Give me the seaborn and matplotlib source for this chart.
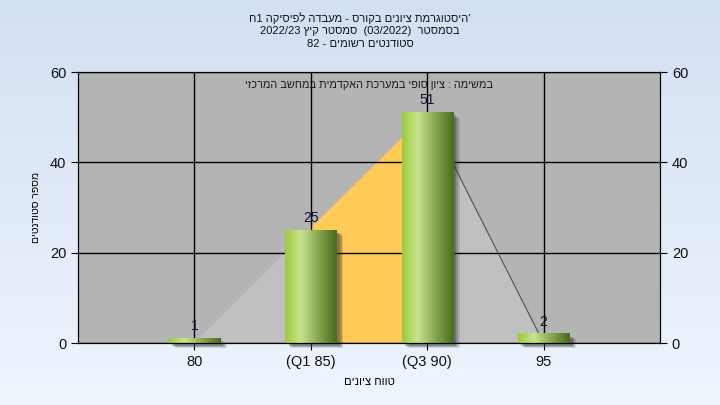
import re
import numpy as np
import pandas as pd
import matplotlib
matplotlib.use("Agg")
import matplotlib.pyplot as plt
from matplotlib.colors import LinearSegmentedColormap
from matplotlib.patches import Rectangle, Polygon
import seaborn as sns

# data
grades = ["80", "(Q1 85)", "(Q3 90)", "95"]
counts = [1, 25, 51, 2]
title_lines = ["'היסטוגרמת ציונים בקורס - מעבדה לפיסיקה 1ח",
               "בסמסטר  (03/2022)  סמסטר קיץ 2022/23",
               "סטודנטים רשומים - 82"]
subtitle = "במשימה : ציון סופי במערכת האקדמית במחשב המרכזי"
x_label = "טווח ציונים"
y_label = "מספר סטודנטים"
y_ticks = [0, 20, 40, 60]


def rtl(s):
    # matplotlib has no bidi: put hebrew text in visual order,
    # keep number/latin runs as they are, mirror brackets
    out = s[::-1]
    out = re.sub(r"[0-9A-Za-z][0-9A-Za-z/.]*[0-9A-Za-z]|[0-9A-Za-z]",
                 lambda m: m.group(0)[::-1], out)
    return out.translate(str.maketrans("()", ")("))


plt.rcParams['font.family'] = ['Liberation Sans', 'DejaVu Sans']

df = pd.DataFrame({"grade": grades, "count": counts})

fig = plt.figure(figsize=(7.2, 4.05), dpi=100)

# background gradient
bg = fig.add_axes([0, 0, 1, 1], zorder=-5)
bg_cmap = LinearSegmentedColormap.from_list("bg", ["#d3e0f2", "#eef5fd"])
bg.imshow(np.linspace(0, 1, 256).reshape(-1, 1), aspect="auto", cmap=bg_cmap,
          extent=[0, 1, 0, 1])
bg.axis("off")

ax = fig.add_axes([0.1083, 0.153, 0.8084, 0.669])
ax.set_facecolor("#b4b4b4")

sns.barplot(data=df, x="grade", y="count", ax=ax, width=0.44, color="#9ccc3c",
            zorder=4)

ax.set_xlim(-1, len(grades))
ax.set_ylim(0, 60)

# triangle min -> peak -> max, with Q1..Q3 part in yellow
peak = int(np.argmax(counts))
tri = [(0, 0), (peak, counts[peak]), (len(grades) - 1, 0)]
ax.add_patch(Polygon(tri, closed=True, facecolor="#c0c0c0", edgecolor="none", zorder=1))
q1, q3 = 1, 2
yq1 = counts[peak] * q1 / peak
ax.add_patch(Polygon([(q1, 0), (q1, yq1), (q3, counts[peak]), (q3, 0)], closed=True,
                     facecolor="#fecb57", edgecolor="none", zorder=1.5))
ax.plot([peak, len(grades) - 1], [counts[peak], 0], color="#505050", lw=0.8, zorder=2)

# grid
ax.set_yticks(y_ticks)
ax.grid(True, color="black", lw=1, zorder=2)
for gl in ax.get_xgridlines() + ax.get_ygridlines():
    gl.set_zorder(2)

# gradient bars with shadow
bar_cmap = LinearSegmentedColormap.from_list(
    "bar", [(0, "#9bcb3a"), (0.3, "#c8e38e"), (0.6, "#8fae58"), (1, "#4a6a1e")])
grad = np.linspace(0, 1, 128).reshape(1, -1)
for p in list(ax.patches):
    if not isinstance(p, Rectangle) or p.get_height() <= 0:
        continue
    x, w, h = p.get_x(), p.get_width(), p.get_height()
    for k, a in [(0.06, 0.15), (0.045, 0.25), (0.03, 0.3)]:
        ax.add_patch(Rectangle((x + k, -k * 20), w, h, facecolor="#303030",
                               alpha=a, edgecolor="none", zorder=3, clip_on=False))
    ax.imshow(grad, extent=[x, x + w, 0, h], aspect="auto", cmap=bar_cmap,
              zorder=4.5, clip_on=False)
    p.set_visible(False)
ax.set_xlim(-1, len(grades))
ax.set_ylim(0, 60)

for i, c in enumerate(counts):
    ax.text(i, c + 1.2, str(c), ha="center", va="bottom", fontsize=10, color="#111133",
            zorder=6)

for s in ax.spines.values():
    s.set_color("black")
    s.set_zorder(7)

ax.tick_params(axis="both", direction="out", length=5, color="black",
               labelsize=10.5, labelcolor="#111111")
ax.set_xlabel(rtl(x_label), fontsize=8, labelpad=6)
ax.set_ylabel(rtl(y_label), fontsize=7.5, rotation=90, labelpad=6)

ax2 = ax.twinx()
ax2.set_ylim(0, 60)
ax2.set_yticks(y_ticks)
ax2.tick_params(axis="y", direction="out", length=5, labelsize=10.5, labelcolor="#111111")

ax.text(0.5, 0.953, rtl(subtitle), transform=ax.transAxes, ha="center", va="center",
        fontsize=7.8, color="#1a1a1a", zorder=6)

fig.text(0.5, 0.97, "\n".join(rtl(t) for t in title_lines), ha="center", va="top",
         fontsize=8, linespacing=1.3, color="#111111")

fig.savefig("out.png", dpi=100)
